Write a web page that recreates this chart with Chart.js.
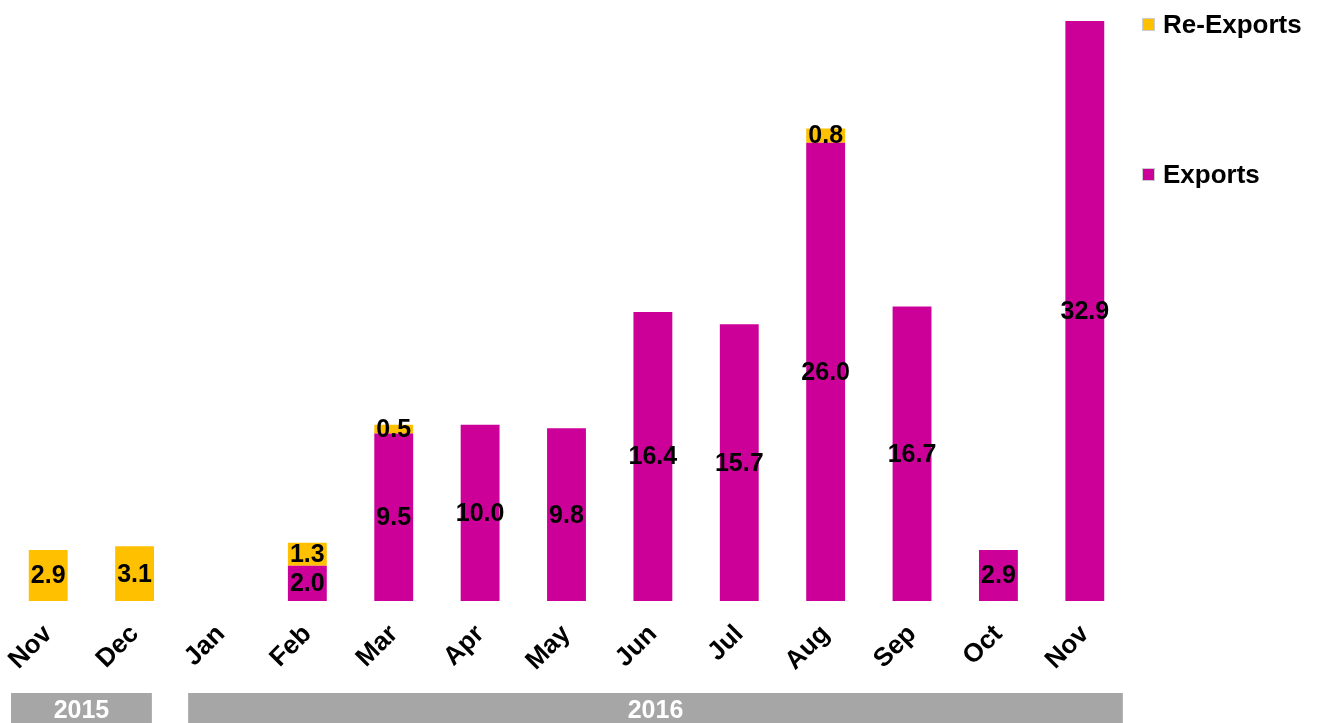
<!DOCTYPE html>
<html>
<head>
<meta charset="utf-8">
<script src="https://cdn.jsdelivr.net/npm/chart.js@4/dist/chart.umd.min.js"></script>
<style>
  html, body { margin: 0; padding: 0; background: #fff; }
  #wrap { position: relative; width: 1320px; height: 723px; }
  .legend { position: absolute; left: 1142px; font: bold 26px "Liberation Sans", Arial, sans-serif; line-height: 30px; color: #000; display: flex; align-items: center; }
  .legend span { display: inline-block; width: 13px; height: 13px; margin-right: 8px; box-sizing: border-box; border: 1px solid #ccc; }
</style>
</head>
<body>
<div id="wrap">
  <canvas id="chart" width="1320" height="723"></canvas>
  <div class="legend" style="top:9px"><span style="background:#FFC000"></span>Re-Exports</div>
  <div class="legend" style="top:159px"><span style="background:#CC0099"></span>Exports</div>
</div>
<script>
// Categories and values
const months = ['Nov', 'Dec', 'Jan', 'Feb', 'Mar', 'Apr', 'May', 'Jun', 'Jul', 'Aug', 'Sep', 'Oct', 'Nov'];
const exportsData = [null, null, null, 2.0, 9.5, 10.0, 9.8, 16.4, 15.7, 26.0, 16.7, 2.9, 32.9];
const reExportsData = [2.9, 3.1, null, 1.3, 0.5, null, null, null, null, 0.8, null, null, null];
const years = [
    { label: '2015', from: 0, to: 1 },
    { label: '2016', from: 2, to: 12 }
];

const labelFont = 'bold 25px "Liberation Sans", Arial, sans-serif';

// Draw values in the middle of each bar segment
const valueLabels = {
    id: 'valueLabels',
    afterDatasetsDraw(chart) {
        const ctx = chart.ctx;
        ctx.save();
        ctx.font = labelFont;
        ctx.fillStyle = '#000';
        ctx.textAlign = 'center';
        ctx.textBaseline = 'middle';
        chart.data.datasets.forEach((ds, i) => {
            const meta = chart.getDatasetMeta(i);
            meta.data.forEach((bar, j) => {
                const v = ds.data[j];
                if (v == null) return;
                ctx.fillText(v.toFixed(1), bar.x, (bar.y + bar.base) / 2 + 1);
            });
        });
        ctx.restore();
    }
};

// Grey year bands under the month labels
const yearBands = {
    id: 'yearBands',
    afterDraw(chart) {
        const ctx = chart.ctx;
        const x = chart.scales.x;
        const step = x.getPixelForValue(1) - x.getPixelForValue(0);
        ctx.save();
        years.forEach((y, i) => {
            const left = i === 0 ? x.getPixelForValue(y.from) - step * 0.43 : x.getPixelForValue(y.from) - step * 0.38;
            const right = i === 0 ? x.getPixelForValue(y.to) + step * 0.2 : x.getPixelForValue(y.to) + step * 0.44;
            ctx.fillStyle = '#A6A6A6';
            ctx.fillRect(left, 693, right - left, 30);
            ctx.fillStyle = '#fff';
            ctx.font = 'bold 25px "Liberation Sans", Arial, sans-serif';
            ctx.textAlign = 'center';
            ctx.textBaseline = 'middle';
            ctx.fillText(y.label, (left + right) / 2, 711);
        });
        ctx.restore();
    }
};

const config = {
    type: 'bar',
    data: {
        labels: months,
        datasets: [
            {
                label: 'Exports',
                data: exportsData,
                backgroundColor: '#CC0099',
                borderWidth: 0
            },
            {
                label: 'Re-Exports',
                data: reExportsData,
                backgroundColor: '#FFC000',
                borderWidth: 0
            }
        ]
    },
    options: {
        responsive: false,
        animation: false,
        layout: { padding: { left: 5, right: 192, top: 21, bottom: 0 } },
        datasets: { bar: { categoryPercentage: 1, barPercentage: 0.45 } },
        plugins: {
            legend: { display: false },
            tooltip: { enabled: false }
        },
        scales: {
            x: {
                stacked: true,
                grid: { display: false },
                border: { display: false },
                ticks: {
                    color: '#000',
                    font: { family: '"Liberation Sans", Arial, sans-serif', size: 26, weight: 'bold' },
                    minRotation: 45,
                    maxRotation: 45,
                    padding: 10
                },
                afterFit(axis) { axis.height = 122; }
            },
            y: {
                stacked: true,
                display: false,
                min: 0,
                max: 32.9
            }
        }
    },
    plugins: [valueLabels, yearBands]
};

new Chart(document.getElementById('chart'), config);
</script>
</body>
</html>
